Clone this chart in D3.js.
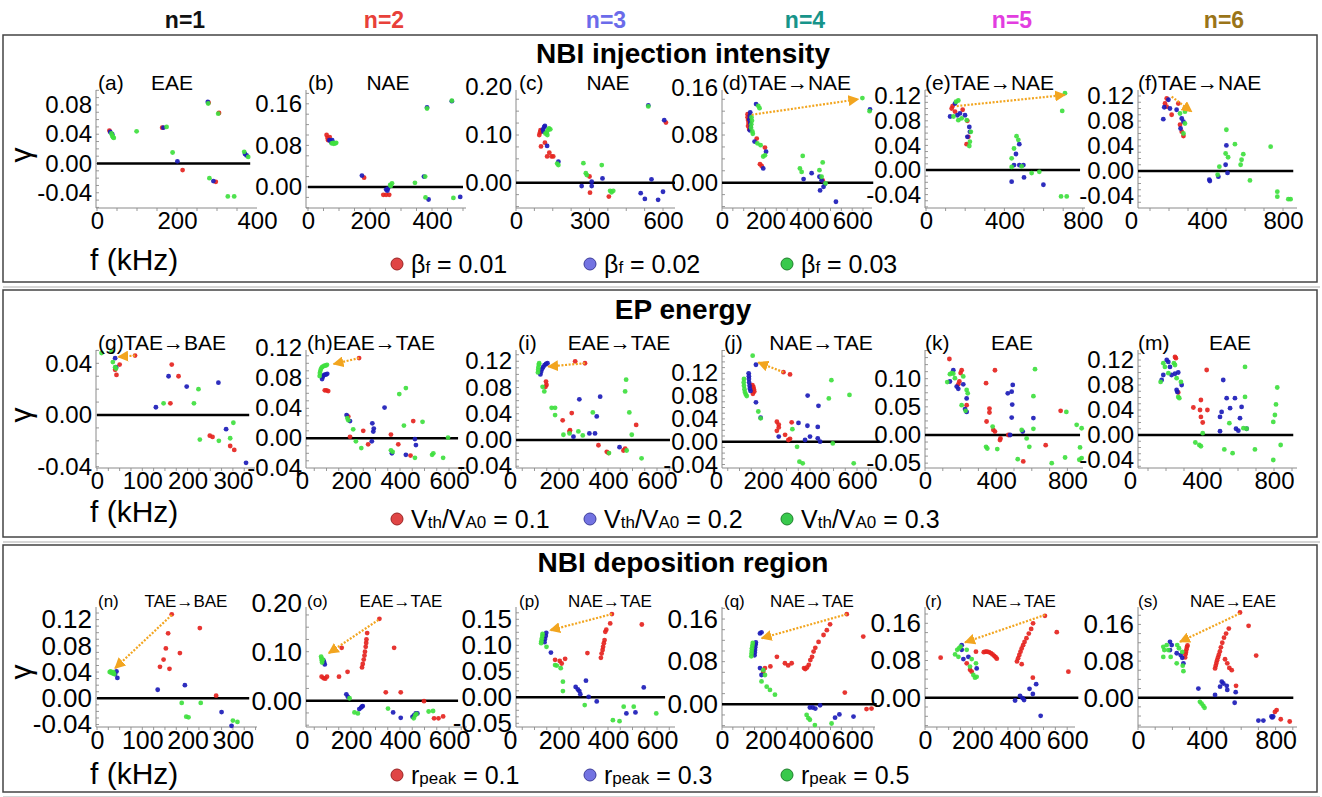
<!DOCTYPE html>
<html>
<head>
<meta charset="utf-8">
<script src="https://cdn.jsdelivr.net/npm/d3@7"></script>
<style>
  body { margin: 0; background: #fff; }
  text { font-family: "Liberation Sans", Arial, sans-serif; }
</style>
</head>
<body>
<div id="chart"></div>
<script>
// ---- data: growth rate (gamma) vs frequency f (kHz), three series per panel ----
// R = first parameter value (red), B = second (blue), G = third (green)
const aR = [[31,0.045],[163,0.049],[214,-0.009],[279,0.083],[305,0.069],[297,-0.025]];
const aB = [[33,0.043],[38,0.040],[166,0.049],[201,0.003],[277,0.084],[291,-0.024],[374,0.011],[370,0.013]];
const aG = [[36,0.041],[38,0.038],[40,0.036],[42,0.035],[99,0.044],[174,0.050],[189,0.015],[278,0.082],[303,0.068],[281,-0.020],[327,-0.045],[343,-0.045],[368,0.016],[378,0.009]];

const bR = [[60,0.100],[63,0.094],[65,0.090],[70,0.096],[181,0.018],[243,-0.015],[252,-0.015],[262,-0.015]];
const bB = [[69,0.090],[73,0.088],[76,0.086],[78,0.090],[174,0.022],[252,-0.005],[258,-0.003],[256,-0.007],[374,0.020],[389,-0.024],[384,0.153],[464,0.165],[491,-0.019]];
const bG = [[76,0.084],[81,0.085],[83,0.083],[88,0.084],[91,0.085],[265,0.004],[271,0.007],[267,0.002],[345,0.008],[378,0.020],[379,-0.020],[384,0.151],[464,0.166],[469,-0.021]];

const cR = [[95,0.100],[98,0.105],[100,0.110],[104,0.108],[118,0.084],[102,0.076],[136,0.063],[127,0.055],[152,0.055],[145,0.055],[300,0.013],[302,-0.021],[379,-0.029],[612,0.126]];
const cB = [[110,0.112],[115,0.117],[118,0.119],[112,0.107],[127,0.077],[173,0.044],[268,-0.007],[309,0.002],[309,-0.007],[353,0.009],[540,0.162],[605,0.131],[509,-0.022],[526,-0.034],[553,0.007],[580,-0.036],[600,-0.019]];
const cG = [[125,0.105],[130,0.110],[135,0.114],[140,0.112],[128,0.100],[120,0.103],[173,0.037],[168,0.040],[275,0.041],[289,0.016],[285,0.020],[350,0.037],[384,-0.017],[390,-0.020],[397,-0.017],[540,0.160]];

const dR = [[118,0.110],[120,0.105],[122,0.100],[120,0.095],[125,0.090],[118,0.115],[160,0.074],[198,0.059],[175,0.031],[183,0.028],[464,0.004]];
const dB = [[130,0.118],[128,0.112],[126,0.106],[130,0.100],[132,0.094],[128,0.088],[157,0.132],[150,0.069],[203,0.052],[190,0.024],[376,0.006],[413,0.016],[449,0.010],[459,0.004],[474,-0.002],[468,-0.007],[452,-0.013],[525,-0.032],[682,0.123]];
const dG = [[138,0.104],[135,0.098],[134,0.092],[140,0.086],[142,0.082],[136,0.110],[167,0.129],[173,0.125],[163,0.066],[178,0.063],[198,0.046],[190,0.044],[372,0.045],[359,0.024],[367,0.018],[464,0.034],[449,0.021],[459,0.010],[477,-0.001],[647,0.142],[680,0.120]];

const eR = [[136,0.104],[148,0.095],[187,0.098],[211,0.080],[216,0.054],[207,0.042],[131,0.100]];
const eB = [[160,0.089],[148,0.108],[199,0.089],[221,0.070],[224,0.062],[211,0.054],[173,0.092],[123,0.087],[476,0.042],[459,0.026],[449,0.008],[476,0.008],[497,0.008],[437,-0.019],[500,-0.012],[599,-0.024]];
const eG = [[153,0.111],[165,0.113],[140,0.087],[208,0.081],[229,0.062],[224,0.046],[221,0.039],[165,0.081],[182,0.084],[462,0.055],[471,0.049],[449,0.035],[437,0.019],[437,0.005],[488,0.006],[539,-0.005],[578,-0.003],[695,0.096],[709,0.125],[689,-0.043],[718,-0.043]];

const fR = [[188,0.116],[188,0.103],[214,0.090],[249,0.108],[258,0.074],[267,0.063],[276,0.056],[179,0.108]];
const fB = [[170,0.083],[205,0.100],[240,0.098],[267,0.084],[276,0.079],[261,0.068],[197,0.114],[175,0.102],[412,-0.014],[415,-0.016],[460,-0.009],[498,0.010],[502,0.041],[508,-0.003]];
const fG = [[258,0.092],[284,0.095],[284,0.076],[276,0.060],[456,-0.006],[465,0.007],[502,0.066],[498,0.028],[511,0.022],[547,0.043],[591,0.027],[582,0.018],[577,0.010],[626,-0.015],[735,0.039],[770,-0.033],[770,-0.041],[828,-0.045],[840,-0.045]];

const gR = [[84,0.046],[40,0.035],[43,0.031],[50,0.039],[165,0.039],[180,0.030],[162,0.009],[249,-0.016],[255,-0.017],[294,-0.024],[303,-0.027]];
const gB = [[40,0.044],[42,0.037],[158,0.030],[198,0.022],[268,0.025],[130,0.006],[285,-0.011],[329,-0.037]];
const gG = [[10,0.048],[32,0.049],[35,0.041],[40,0.037],[42,0.036],[224,0.020],[147,0.009],[214,0.009],[227,-0.019],[269,-0.020],[294,-0.018],[301,-0.006]];

const hR = [[93,0.064],[100,0.064],[107,0.063],[233,0.107],[189,0.029],[196,0.002],[250,0.010],[270,-0.008],[363,0.005],[393,-0.008],[454,0.023],[443,-0.023]];
const hB = [[82,0.079],[85,0.082],[88,0.084],[93,0.085],[98,0.085],[103,0.086],[182,0.031],[196,0.023],[285,-0.004],[287,0.020],[293,0.013],[291,0.009],[337,0.041],[367,-0.020],[424,-0.022],[461,-0.001],[465,-0.009]];
const hG = [[72,0.083],[73,0.087],[75,0.090],[78,0.093],[82,0.095],[87,0.096],[92,0.097],[97,0.097],[102,0.098],[185,0.027],[189,0.024],[209,0.012],[220,-0.004],[242,-0.013],[363,-0.016],[370,-0.018],[397,0.059],[424,0.067],[416,0.017],[492,0.022],[461,-0.026],[531,-0.022],[536,-0.020],[596,0.001],[576,-0.026]];

const iR = [[147,0.089],[149,0.084],[145,0.081],[266,0.120],[306,0.117],[215,0.030],[252,0.041],[245,0.015],[243,0.013],[361,-0.008],[395,-0.018],[402,-0.020],[463,-0.016],[470,-0.013],[515,0.023]];
const iB = [[124,0.100],[127,0.104],[130,0.108],[135,0.111],[141,0.114],[147,0.116],[153,0.117],[259,0.005],[283,0.062],[324,0.010],[347,0.010],[354,0.036],[368,0.066],[447,-0.011]];
const iG = [[114,0.103],[115,0.107],[116,0.111],[118,0.115],[119,0.117],[133,0.081],[140,0.074],[170,0.049],[184,0.049],[184,0.038],[243,0.010],[218,0.008],[279,0.013],[297,0.007],[338,0.042],[404,-0.020],[476,-0.016],[474,0.092],[470,0.074],[487,0.042],[497,0.008],[537,-0.028]];

const jR = [[155,0.099],[159,0.096],[161,0.092],[163,0.088],[157,0.084],[287,0.122],[315,0.118],[259,0.035],[267,0.030],[259,0.019],[267,0.025],[294,0.012],[308,0.003],[315,0.005],[322,0.034]];
const jB = [[170,0.135],[139,0.120],[140,0.115],[140,0.110],[141,0.104],[143,0.098],[144,0.093],[147,0.089],[170,0.069],[190,0.042],[267,0.009],[351,0.033],[389,0.028],[433,0.026],[390,0.081],[436,0.063],[379,0.003],[400,0.009],[433,0.006],[443,0.000]];
const jG = [[156,0.151],[119,0.110],[118,0.104],[119,0.098],[121,0.092],[123,0.087],[127,0.083],[131,0.080],[180,0.053],[190,0.041],[325,0.022],[345,-0.009],[355,-0.035],[369,-0.038],[480,0.076],[491,0.108],[568,0.082],[497,-0.003],[586,-0.038]];

const kR = [[137,0.135],[206,0.115],[200,0.110],[193,0.095],[187,0.090],[234,0.053],[343,0.092],[393,0.115],[362,0.047],[362,0.040],[346,0.024],[384,0.009],[393,0.006],[424,-0.006],[421,-0.009],[468,0.000],[552,-0.047],[678,-0.018],[762,0.043]];
const kB = [[159,0.115],[140,0.095],[178,0.086],[187,0.082],[215,0.090],[234,0.065],[225,0.046],[234,0.041],[478,0.000],[465,0.074],[493,0.089],[487,0.077],[490,0.054],[487,0.031],[549,0.006],[609,0.030]];
const kG = [[140,0.108],[150,0.110],[159,0.109],[125,0.094],[215,0.104],[168,0.101],[234,0.080],[240,0.074],[206,0.053],[228,0.043],[343,-0.021],[350,-0.024],[380,0.015],[406,-0.025],[521,-0.043],[543,0.009],[571,-0.006],[586,-0.021],[609,0.069],[618,0.117],[609,0.011],[712,-0.050],[794,0.041],[787,-0.040],[852,0.018],[880,0.012],[871,-0.022],[867,-0.044],[880,-0.041]];

const mR = [[250,0.125],[255,0.123],[268,0.068],[426,0.104],[352,0.044],[389,0.040],[394,0.056],[394,0.029],[404,0.020],[430,0.040]];
const mB = [[204,0.120],[213,0.117],[176,0.088],[222,0.109],[231,0.096],[250,0.098],[268,0.100],[287,0.080],[259,0.072],[263,0.069],[185,0.096],[518,0.088],[509,0.037],[500,0.029],[537,0.059],[556,0.043],[583,0.059],[620,0.045],[611,0.027],[589,0.010],[602,0.007],[500,0.006],[648,0.010]];
const mG = [[185,0.115],[194,0.109],[170,0.085],[244,0.115],[250,0.112],[259,0.091],[283,0.085],[268,0.061],[274,0.059],[213,0.099],[363,-0.012],[385,-0.016],[394,-0.018],[404,0.003],[524,-0.023],[552,0.019],[570,-0.029],[639,0.109],[639,0.061],[630,0.011],[648,0.010],[694,-0.023],[805,0.032],[818,0.076],[811,0.049],[796,0.021],[796,-0.040],[837,-0.016]];

const nR = [[165,0.128],[157,0.099],[152,0.076],[147,0.059],[139,0.048],[160,0.045],[183,0.069],[227,0.107],[263,0.004]];
const nB = [[40,0.037],[45,0.031],[43,0.041],[134,0.013],[194,0.020],[275,-0.021],[297,-0.042]];
const nG = [[28,0.040],[30,0.041],[32,0.039],[34,0.038],[36,0.040],[38,0.037],[187,-0.007],[229,-0.007],[197,-0.028],[202,-0.029],[300,-0.034],[310,-0.036]];

const oR = [[316,0.167],[266,0.138],[263,0.125],[262,0.118],[260,0.110],[257,0.100],[255,0.092],[252,0.084],[248,0.075],[245,0.068],[162,0.108],[80,0.049],[88,0.046],[95,0.045],[102,0.049],[151,0.049],[186,0.059],[342,0.017],[376,0.108],[403,0.017],[498,-0.001],[539,-0.036],[557,-0.036],[576,-0.032]];
const oB = [[87,0.083],[90,0.079],[93,0.074],[181,0.013],[187,0.008],[234,-0.017],[241,-0.014],[245,-0.012],[248,-0.011],[372,-0.024],[403,-0.035],[451,-0.033],[457,-0.030],[464,-0.026],[471,-0.026]];
const oG = [[78,0.090],[80,0.086],[81,0.082],[82,0.078],[85,0.084],[194,0.005],[214,-0.024],[228,-0.026],[351,-0.016],[456,-0.036],[462,-0.030],[467,-0.027],[517,-0.022],[535,-0.021]];

const pR = [[416,0.160],[409,0.142],[393,0.130],[389,0.126],[386,0.110],[383,0.104],[380,0.097],[378,0.091],[374,0.084],[371,0.076],[316,0.085],[538,0.140],[184,0.072],[203,0.070],[225,0.074],[211,0.065]];
const pB = [[141,0.106],[143,0.112],[146,0.118],[148,0.124],[167,0.086],[268,0.020],[277,0.015],[283,0.012],[287,0.006],[310,0.032],[321,0.001],[354,-0.008],[546,0.019],[475,-0.031],[512,-0.029]];
const pG = [[127,0.104],[128,0.108],[130,0.113],[132,0.118],[133,0.122],[149,0.097],[184,0.062],[191,0.061],[207,0.056],[216,0.030],[216,0.012],[305,-0.015],[464,-0.018],[505,-0.018],[420,-0.044],[447,-0.046],[597,-0.031]];

const qR = [[575,0.169],[498,0.150],[483,0.139],[468,0.130],[445,0.117],[430,0.106],[422,0.099],[415,0.089],[407,0.083],[400,0.074],[392,0.069],[384,0.066],[378,0.068],[290,0.077],[305,0.073],[321,0.077],[253,0.089],[223,0.071],[198,0.068],[190,0.061],[566,0.022],[651,0.127],[666,-0.009],[689,-0.008]];
const qB = [[175,0.133],[182,0.135],[150,0.092],[151,0.097],[152,0.102],[153,0.107],[155,0.112],[156,0.116],[175,0.068],[182,0.055],[405,-0.006],[418,-0.006],[430,-0.008],[452,-0.002],[521,-0.025],[541,-0.019],[606,-0.023]];
const qG = [[135,0.090],[136,0.095],[137,0.100],[138,0.105],[140,0.110],[142,0.115],[190,0.064],[198,0.055],[182,0.043],[206,0.033],[221,0.027],[244,0.018],[390,-0.020],[398,-0.026],[405,-0.029],[428,-0.039],[505,-0.036]];

const rR = [[66,0.086],[215,0.099],[176,0.074],[190,0.060],[197,0.056],[248,0.098],[255,0.099],[262,0.099],[270,0.098],[278,0.096],[285,0.093],[292,0.090],[298,0.087],[303,0.084],[388,0.078],[393,0.085],[398,0.092],[403,0.099],[408,0.106],[414,0.113],[420,0.120],[428,0.128],[438,0.138],[448,0.148],[456,0.160],[408,0.072],[455,0.043],[506,0.176],[556,0.141],[605,0.056]];
const rB = [[155,0.113],[155,0.103],[162,0.083],[183,0.088],[218,0.063],[380,-0.006],[401,0.004],[412,-0.001],[418,-0.005],[441,0.019],[455,0.008],[469,0.029],[488,-0.039]];
const rG = [[136,0.103],[143,0.106],[150,0.110],[127,0.093],[141,0.088],[176,0.103],[197,0.083],[215,0.074],[190,0.067],[204,0.049],[211,0.043],[218,0.045]];

const sR = [[274,0.088],[276,0.095],[279,0.100],[282,0.106],[285,0.111],[288,0.114],[593,0.186],[448,0.064],[452,0.070],[456,0.076],[460,0.082],[465,0.088],[470,0.094],[476,0.101],[482,0.110],[490,0.120],[500,0.131],[512,0.140],[528,0.151],[506,0.084],[519,0.075],[531,0.065],[545,0.060],[643,0.157],[687,0.092],[570,0.026],[796,-0.031],[806,-0.027],[830,-0.047],[882,-0.052]];
const sB = [[186,0.122],[196,0.115],[186,0.104],[225,0.097],[248,0.093],[257,0.087],[264,0.075],[351,0.020],[448,0.006],[477,0.024],[487,0.035],[496,0.031],[516,0.026],[519,0.017],[562,-0.011],[568,0.012],[700,-0.050],[729,-0.050],[776,-0.041],[781,-0.043],[786,-0.041]];
const sG = [[147,0.111],[153,0.104],[147,0.089],[167,0.115],[176,0.104],[228,0.115],[238,0.108],[257,0.100],[225,0.075],[260,0.070],[264,0.058],[190,0.089],[360,-0.009],[370,-0.013],[380,-0.018],[387,-0.022]];

// end of the black gamma = 0 line in each panel (kHz), order a..s
const zeroLineEnd = [383,500,649,697,786,854, 336,637,653,697,871,907, 336,637,633,713,647,903];

// mode transition arrows: panel, from f, from gamma, to f, to gamma
const arrows = [
  ['d',137,0.114,628,0.140], ['e',157,0.104,709,0.122], ['f',214,0.119,319,0.095],
  ['g',84,0.046,47,0.045], ['h',233,0.107,129,0.099], ['i',306,0.117,156,0.112], ['j',287,0.122,180,0.139],
  ['n',165,0.127,40,0.046], ['o',312,0.165,109,0.097], ['p',416,0.160,164,0.129],
  ['q',575,0.169,183,0.124], ['r',506,0.178,169,0.119], ['s',593,0.184,244,0.122]
];

const columns = ['n=1','n=2','n=3','n=4','n=5','n=6'];
const rowTitles = ['NBI injection intensity','EP energy','NBI deposition region'];
const legendValues = [['0.01','0.02','0.03'], ['0.1','0.2','0.3'], ['0.1','0.3','0.5']];

// ---- layout ----
var width = 1322, height = 797;
var rowTop = [90, 350, 607], rowBot = [208, 468, 727];
var colCenter = [185, 384, 606, 805, 1012, 1224];
var colColor = ['#111', '#e8403a', '#6b6bea', '#17948a', '#e23de0', '#9a7418'];
var dotColor = ['#e52420', '#1c1cb8', '#3fe03f'];
var legFill = ['#e04545', '#7373e2', '#38c94c'], legStroke = ['#9a2424', '#3c3c9a', '#1f7f2c'];

// per panel geometry: axis ends (L,R), x of f=0 and px per kHz, y of gamma=0 and px per unit
var panels = [
  {id:'a', row:0, L:96,   R:257,  x0:97,   kx:0.4,   y0:163.5, ky:732,  xt:[0,200,400], yt:[-0.04,0,0.04,0.08], pts:[aR,aB,aG], tag:'(a)', tagX:98,   mode:'EAE', modeX:172},
  {id:'b', row:0, L:306,  R:466,  x0:308,  kx:0.31,  y0:187,   ky:520,  xt:[0,200,400], yt:[0,0.08,0.16], pts:[bR,bB,bG], tag:'(b)', tagX:308, mode:'NAE', modeX:388},
  {id:'c', row:0, L:516,  R:675,  x0:516,  kx:0.245, y0:182.7, ky:477,  xt:[0,300,600], yt:[0,0.1,0.2], pts:[cR,cB,cG], tag:'(c)', tagX:519, mode:'NAE', modeX:608},
  {id:'d', row:0, L:722,  R:872,  x0:722,  kx:0.217, y0:182.7, ky:596,  xt:[0,200,400,600], yt:[0,0.08,0.16], pts:[dR,dB,dG], tag:'(d)TAE\u2192NAE', tagX:722},
  {id:'e', row:0, L:925,  R:1085, x0:926,  kx:0.196, y0:170,   ky:615,  xt:[0,400,800], yt:[-0.04,0,0.04,0.08,0.12], pts:[eR,eB,eG], tag:'(e)TAE\u2192NAE', tagX:925},
  {id:'f', row:0, L:1138, R:1297, x0:1131, kx:0.19,  y0:171,   ky:625,  xt:[0,400,800], yt:[-0.04,0,0.04,0.08,0.12], pts:[fR,fB,fG], tag:'(f)TAE\u2192NAE', tagX:1138},
  {id:'g', row:1, L:96,   R:255,  x0:97,   kx:0.453, y0:415,   ky:1292, xt:[0,100,200,300], yt:[-0.04,0,0.04], pts:[gR,gB,gG], tag:'(g)TAE\u2192BAE', tagX:98},
  {id:'h', row:1, L:306,  R:467,  x0:302,  kx:0.245, y0:438.3, ky:750,  xt:[0,200,400,600], yt:[-0.04,0,0.04,0.08,0.12], pts:[hR,hB,hG], tag:'(h)EAE\u2192TAE', tagX:307},
  {id:'i', row:1, L:516,  R:675,  x0:510,  kx:0.245, y0:440,   ky:656,  xt:[0,200,400,600], yt:[-0.04,0,0.04,0.08,0.12], pts:[iR,iB,iG], tag:'(i)', tagX:518, mode:'EAE\u2192TAE', modeX:619},
  {id:'j', row:1, L:722,  R:880,  x0:716,  kx:0.235, y0:441.7, ky:570,  xt:[0,200,400,600], yt:[-0.04,0,0.04,0.08,0.12], pts:[jR,jB,jG], tag:'(j)', tagX:724, mode:'NAE\u2192TAE', modeX:821},
  {id:'k', row:1, L:925,  R:1083, x0:925,  kx:0.178, y0:435,   ky:563,  xt:[0,400,800], yt:[-0.05,0,0.05,0.1], pts:[kR,kB,kG], tag:'(k)', tagX:925, mode:'EAE', modeX:1012},
  {id:'m', row:1, L:1138, R:1297, x0:1130, kx:0.18,  y0:435,   ky:625,  xt:[0,400,800], yt:[-0.04,0,0.04,0.08,0.12], pts:[mR,mB,mG], tag:'(m)', tagX:1138, mode:'EAE', modeX:1230},
  {id:'n', row:2, L:96,   R:257,  x0:97,   kx:0.453, y0:698.3, ky:656,  xt:[0,100,200,300], yt:[-0.04,0,0.04,0.08,0.12], pts:[nR,nB,nG], tag:'(n)', tagX:98, mode:'TAE\u2192BAE', modeX:186},
  {id:'o', row:2, L:306,  R:467,  x0:302,  kx:0.245, y0:700.7, ky:490,  xt:[0,200,400,600], yt:[0,0.1,0.2], pts:[oR,oB,oG], tag:'(o)', tagX:307, mode:'EAE\u2192TAE', modeX:401},
  {id:'p', row:2, L:516,  R:675,  x0:510,  kx:0.245, y0:697.3, ky:520,  xt:[0,200,400,600], yt:[-0.05,0,0.05,0.1,0.15], pts:[pR,pB,pG], tag:'(p)', tagX:519, mode:'NAE\u2192TAE', modeX:610},
  {id:'q', row:2, L:722,  R:875,  x0:722,  kx:0.217, y0:704.3, ky:533,  xt:[0,200,400,600], yt:[0,0.08,0.16], pts:[qR,qB,qG], tag:'(q)', tagX:724, mode:'NAE\u2192TAE', modeX:812},
  {id:'r', row:2, L:925,  R:1075, x0:925,  kx:0.237, y0:697.7, ky:465,  xt:[0,200,400,600], yt:[0,0.08,0.16], pts:[rR,rB,rG], tag:'(r)', tagX:925, mode:'NAE\u2192TAE', modeX:1014},
  {id:'s', row:2, L:1138, R:1297, x0:1138, kx:0.172, y0:697.7, ky:458,  xt:[0,400,800], yt:[0,0.08,0.16], pts:[sR,sB,sG], tag:'(s)', tagX:1138, mode:'NAE\u2192EAE', modeX:1233}
];

var svg = d3.select('#chart')
  .append('svg')
  .attr('width', width)
  .attr('height', height);

svg.append('defs').append('marker')
  .attr('id', 'head')
  .attr('viewBox', '0 0 10 10')
  .attr('refX', 9).attr('refY', 5)
  .attr('markerWidth', 5).attr('markerHeight', 5)
  .attr('orient', 'auto')
  .append('path')
  .attr('d', 'M0,0 L10,5 L0,10 z')
  .attr('fill', '#f2a51f');

// frames around the three rows
var boxes = [[35, 282], [290, 537], [545, 792]];
boxes.forEach(function(b) {
  svg.append('line').attr('x1', 3).attr('x2', 1320).attr('y1', b[1] + 5).attr('y2', b[1] + 5)
    .attr('stroke', '#c8c8c8').attr('stroke-width', 1.5);
  svg.append('rect').attr('x', 3).attr('y', b[0]).attr('width', 1314).attr('height', b[1] - b[0])
    .attr('fill', 'none').attr('stroke', '#444').attr('stroke-width', 1.5);
});

// column headers
svg.selectAll('.col')
  .data(columns)
  .enter()
  .append('text')
  .attr('x', (d, i) => colCenter[i])
  .attr('y', 28)
  .attr('text-anchor', 'middle')
  .attr('font-size', 23)
  .attr('font-weight', 'bold')
  .attr('fill', (d, i) => colColor[i])
  .text(d => d);

var titleY = [63, 319, 572];
rowTitles.forEach(function(t, r) {
  svg.append('text').attr('x', 683).attr('y', titleY[r]).attr('text-anchor', 'middle')
    .attr('font-size', 28).attr('font-weight', 'bold').text(t);
});

// axis labels and legends
var fLabelY = [270, 522, 784], gammaY = [155, 415, 672], legendY = [264, 519, 775];
for (let r = 0; r < 3; r++) {
  svg.append('text').attr('x', 90).attr('y', fLabelY[r]).attr('font-size', 30).text('f (kHz)');
  svg.append('text').attr('transform', 'translate(31,' + gammaY[r] + ') rotate(-90)')
    .attr('text-anchor', 'middle').attr('font-size', 30).text('\u03b3');

  var legX = [397, 590, 787];
  legendValues[r].forEach(function(v, i) {
    svg.append('circle').attr('cx', legX[i]).attr('cy', legendY[r]).attr('r', 6)
      .attr('fill', legFill[i]).attr('stroke', legStroke[i]).attr('stroke-width', 1);
    var t = svg.append('text').attr('x', legX[i] + 14).attr('y', legendY[r] + 9).attr('font-size', 25);
    if (r === 0) {
      t.append('tspan').text('\u03b2');
      t.append('tspan').attr('font-size', 17).text('f');
    } else if (r === 1) {
      t.append('tspan').text('V');
      t.append('tspan').attr('font-size', 17).text('th');
      t.append('tspan').text('/V');
      t.append('tspan').attr('font-size', 17).text('A0');
    } else {
      t.append('tspan').text('r');
      t.append('tspan').attr('font-size', 17).text('peak');
    }
    t.append('tspan').text(' = ' + v);
  });
}

// panels
panels.forEach(function(p, pi) {
  var T = rowTop[p.row], B = rowBot[p.row];
  var x = d3.scaleLinear().domain([0, 1000]).range([p.x0, p.x0 + 1000 * p.kx]);
  var y = d3.scaleLinear().domain([0, 0.1]).range([p.y0, p.y0 - 0.1 * p.ky]);
  var g = svg.append('g');
  var tickFont = p.row === 2 ? 26 : 24;

  // minor ticks
  var xs = (p.xt[1] - p.xt[0]) / 4;
  var xMinor = d3.range(0, x.invert(p.R), xs).filter(v => x(v) >= p.L);
  g.selectAll('.xm').data(xMinor).enter().append('line')
    .attr('x1', d => x(d)).attr('x2', d => x(d)).attr('y1', B).attr('y2', B + 3)
    .attr('stroke', '#999');
  var ys = (p.yt[1] - p.yt[0]) / 4;
  var yMinor = d3.range(Math.ceil(y.invert(B) / ys) * ys, y.invert(T), ys);
  g.selectAll('.ym').data(yMinor).enter().append('line')
    .attr('x1', p.L).attr('x2', p.L + 3).attr('y1', d => y(d)).attr('y2', d => y(d))
    .attr('stroke', '#999');

  // axis lines
  g.append('line').attr('x1', p.L).attr('x2', p.R).attr('y1', B).attr('y2', B)
    .attr('stroke', '#8a8a8a').attr('stroke-width', 1);
  g.append('line').attr('x1', p.L).attr('x2', p.L).attr('y1', T).attr('y2', B)
    .attr('stroke', '#8a8a8a').attr('stroke-width', 1);

  var xAxis = g.append('g').attr('transform', 'translate(0,' + B + ')')
    .call(d3.axisBottom(x).tickValues(p.xt).tickSize(0).tickPadding(4).tickFormat(d3.format('d')));
  xAxis.select('.domain').remove();
  xAxis.selectAll('text').attr('font-size', p.row === 2 ? 25 : 24).attr('font-family', null).attr('fill', '#000');

  var yAxis = g.append('g').attr('transform', 'translate(' + p.L + ',0)')
    .call(d3.axisLeft(y).tickValues(p.yt).tickSize(0).tickPadding(4).tickFormat(d => d.toFixed(2)));
  yAxis.select('.domain').remove();
  yAxis.selectAll('text').attr('font-size', tickFont).attr('font-family', null).attr('fill', '#000');

  // gamma = 0 line
  g.append('line')
    .attr('x1', Math.max(x(0), p.L)).attr('x2', x(zeroLineEnd[pi]))
    .attr('y1', y(0)).attr('y2', y(0))
    .attr('stroke', '#000').attr('stroke-width', 2.6);

  // points, red then blue then green
  p.pts.forEach(function(series, si) {
    g.selectAll('.s' + si)
      .data(series)
      .enter()
      .append('circle')
      .attr('cx', d => x(d[0]))
      .attr('cy', d => y(d[1]))
      .attr('r', 2.4)
      .attr('fill', dotColor[si])
      .attr('opacity', 0.92);
  });

  // arrow
  arrows.filter(a => a[0] === p.id).forEach(function(a) {
    g.append('line')
      .attr('x1', x(a[1])).attr('y1', y(a[2]))
      .attr('x2', x(a[3])).attr('y2', y(a[4]))
      .attr('stroke', '#f2a51f').attr('stroke-width', 2.2)
      .attr('stroke-dasharray', '2,1.6')
      .attr('marker-end', 'url(#head)');
  });

  // panel label
  var labFont = p.row === 2 ? 17 : 21;
  g.append('text').attr('x', p.tagX).attr('y', T).attr('font-size', labFont).text(p.tag);
  if (p.mode) {
    g.append('text').attr('x', p.modeX).attr('y', T).attr('text-anchor', 'middle')
      .attr('font-size', labFont).text(p.mode);
  }
});
</script>
</body>
</html>
